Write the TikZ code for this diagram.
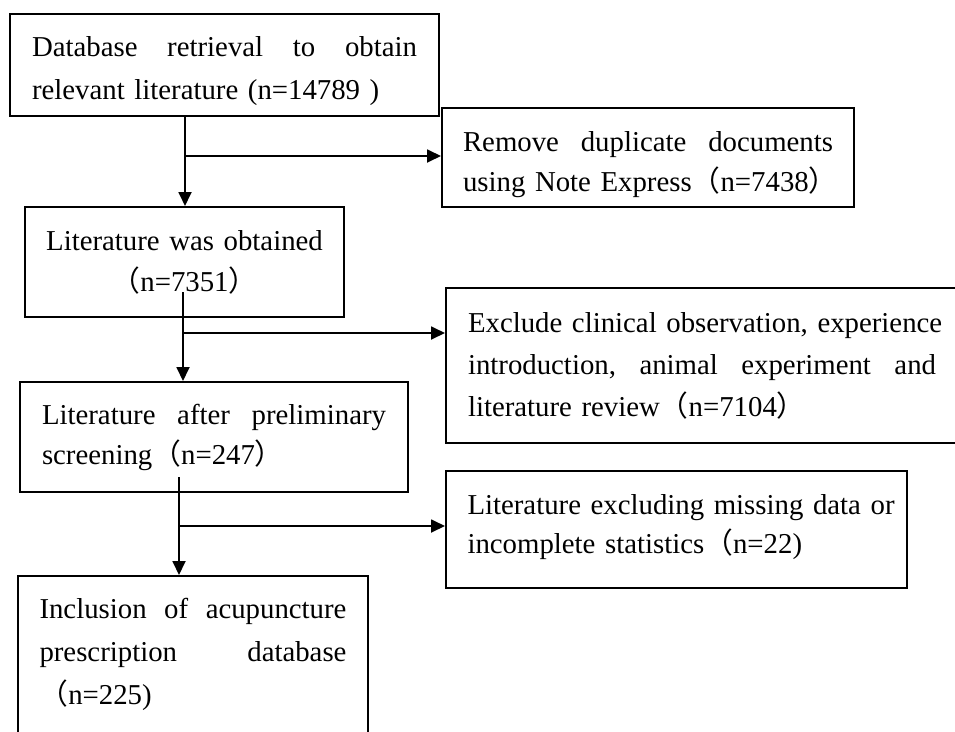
\documentclass[tikz,border=0pt]{standalone}
\usepackage{fontspec}
\setmainfont{Liberation Serif}
\newfontfamily\cjkfont{Noto Sans CJK SC}
\newcommand\flp{{\cjkfont （}}
\newcommand\frp{{\cjkfont ）}}
\newcommand\jline[2]{\leavevmode\hbox to #1{#2}}
\usetikzlibrary{arrows.meta}
\begin{document}
\begin{tikzpicture}[x=1pt,y=-1pt,
  box/.style={draw, line width=2pt, rectangle, anchor=north west, inner ysep=0pt, align=left},
  fs/.style={font=\fontsize{28.8pt}{#1}\selectfont},
  arr/.style={line width=1.8pt, -{Triangle[length=14pt,width=13pt]}}]
\useasboundingbox (0,0) rectangle (955,731);
\fill[white] (0,0) rectangle (955,731);
\clip (0,0) rectangle (955,731);
% boxes
\node[box, fs=43pt, text width=385pt, inner xsep=22pt, text height=42pt, text depth=60pt] (b1) at (9,13)
  {\jline{385pt}{Database \hfill retrieval \hfill to \hfill obtain}\\\mbox{relevant literature (n=14789 )}};
\node[box, fs=40pt, text width=370pt, inner xsep=21pt, text height=43pt, text depth=56pt] (b2) at (441,107)
  {\jline{370pt}{Remove \hfill duplicate \hfill documents}\\\mbox{using Note Express\flp n=7438\frp}};
\node[box, fs=41pt, text width=299pt, inner xsep=10pt, text height=43pt, text depth=67pt, align=center] (b3) at (24,206)
  {\mbox{Literature was obtained}\\\mbox{\flp n=7351\frp}};
\node[box, fs=42pt, text width=490pt, inner xsep=22pt, text height=44pt, text depth=111pt] (b4) at (445,287)
  {\jline{468pt}{Exclude \hfill clinical \hfill observation, \hfill experience}\\\jline{468pt}{introduction, \hfill animal \hfill experiment \hfill and}\\\mbox{literature review\flp n=7104\frp}};
\node[box, fs=40pt, text width=344pt, inner xsep=22pt, text height=42pt, text depth=68pt] (b5) at (19,381)
  {\jline{344pt}{Literature \hfill after \hfill preliminary}\\\mbox{screening\flp n=247\frp}};
\node[box, fs=39pt, text width=418pt, inner xsep=21.5pt, text height=43pt, text depth=74pt] (b6) at (445,470)
  {\jline{418pt}{Literature \hfill excluding \hfill missing \hfill data \hfill or}\\\mbox{incomplete statistics\flp n=22)}};
\node[box, fs=43pt, text width=307pt, inner xsep=21.5pt, text height=42pt, text depth=123pt] (b7) at (17,575)
  {\jline{307pt}{Inclusion \hfill of \hfill acupuncture}\\\jline{307pt}{prescription \hfill database}\\\mbox{\flp n=225)}};
% junctions and free ends
\coordinate (j1) at (185,156);
\coordinate (s2) at (183,292);
\coordinate (j2) at (183,333);
\coordinate (s3) at (179,477);
\coordinate (j3) at (179,526);
% connectors
\draw[arr] (j1 |- b1.south) -- (j1 |- b3.north);
\draw[arr] (j1) -- (j1 -| b2.west);
\draw[arr] (s2) -- (s2 |- b5.north);
\draw[arr] (j2) -- (j2 -| b4.west);
\draw[arr] (s3) -- (s3 |- b7.north);
\draw[arr] (j3) -- (j3 -| b6.west);
\end{tikzpicture}
\end{document}
